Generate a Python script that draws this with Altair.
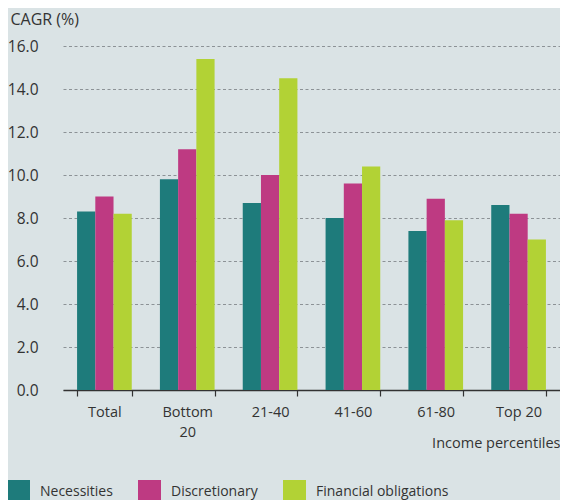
import altair as alt
import pandas as pd

categories = ["Total", "Bottom 20", "21-40", "41-60", "61-80", "Top 20"]
series = ["Necessities", "Discretionary", "Financial obligations"]
necessities = [8.3, 9.8, 8.7, 8.0, 7.4, 8.6]
discretionary = [9.0, 11.2, 10.0, 9.6, 8.9, 8.2]
financial = [8.2, 15.4, 14.5, 10.4, 7.9, 7.0]
colors = ["#1e7b7b", "#be3a82", "#b2d235"]
y_ticks = [0, 2, 4, 6, 8, 10, 12, 14, 16]

rows = []
for s, vals in zip(series, [necessities, discretionary, financial]):
    for c, v in zip(categories, vals):
        rows.append({"group": c, "series": s, "value": v})
df = pd.DataFrame(rows)

FONT = "Open Sans"
TXT = "#333333"

chart = alt.Chart(df).mark_bar().encode(
    x=alt.X(
        "group:N",
        sort=categories,
        scale=alt.Scale(paddingInner=0.34, paddingOuter=0.17),
        axis=alt.Axis(
            title="Income percentiles",
            titleX=497, titleY=57, titleAlign="right", titleAnchor="end",
            titleBaseline="alphabetic", titleFontSize=14.5, titleFontWeight="normal",
            titleColor=TXT, titleFont=FONT,
            labelAngle=0, labelFontSize=14.5, labelColor=TXT, labelFont=FONT,
            labelPadding=9, labelLineHeight=20,
            labelExpr="datum.label == 'Bottom 20' ? ['Bottom', '20'] : datum.label",
            tickBand="extent", tickSize=6, tickColor="#333333", tickWidth=1.2,
            domainColor="#333333", domainWidth=1.5, grid=False,
        ),
    ),
    xOffset=alt.XOffset("series:N", sort=series, scale=alt.Scale(paddingInner=0, paddingOuter=0)),
    y=alt.Y(
        "value:Q",
        scale=alt.Scale(domain=[0, 16], nice=False),
        axis=alt.Axis(
            values=y_ticks, format=".1f",
            title="CAGR (%)", titleAngle=0, titleX=-53, titleY=-22,
            titleAlign="left", titleBaseline="alphabetic", titleFontSize=16,
            titleFontWeight="normal", titleColor=TXT, titleFont=FONT,
            labelFontSize=15.5, labelColor=TXT, labelFont=FONT, labelPadding=25,
            ticks=False, domain=False,
            grid=True, gridColor="#8c9296", gridDash=[3, 2.5], gridWidth=1,
        ),
    ),
    color=alt.Color(
        "series:N", sort=series,
        scale=alt.Scale(domain=series, range=colors),
        legend=alt.Legend(
            title=None, orient="none", legendX=-56, legendY=434,
            direction="horizontal", symbolType="square", symbolSize=529,
            symbolStrokeWidth=0, labelFontSize=14, labelColor=TXT, labelFont=FONT,
            labelOffset=10, columnPadding=25, padding=0,
        ),
    ),
).properties(
    width=497,
    height=344,
    background="#dae3e5",
    autosize=alt.AutoSizeParams(type="none"),
    padding={"left": 55, "top": 38, "right": 0, "bottom": 110},
).configure_view(stroke=None)

chart.save("out.html", embed_options={"renderer": "svg", "actions": False})
